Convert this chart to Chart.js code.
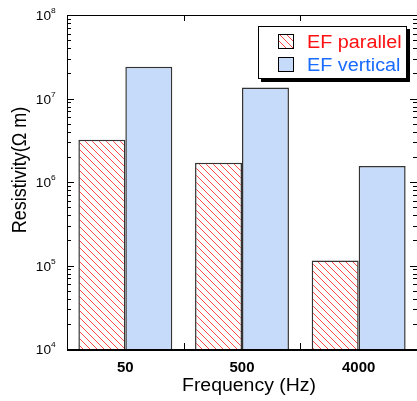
<!DOCTYPE html>
<html>
<head>
<meta charset="utf-8">
<script src="https://cdn.jsdelivr.net/npm/chart.js@4.4.0/dist/chart.umd.min.js"></script>
<style>
  body { margin: 0; background: #fff; }
  canvas { display: block; }
</style>
</head>
<body>
<canvas id="myChart-resistivity" width="417" height="401"></canvas>
<script>
// data
const frequencies = ['50', '500', '4000'];
const efParallel = [3.2e6, 1.7e6, 1.15e5];
const efVertical = [2.4e7, 1.35e7, 1.55e6];
const decadeTicks = [1e4, 1e5, 1e6, 1e7, 1e8];
const decadeLabels = ['4', '5', '6', '7', '8'];
const seriesNames = ['EF parallel', 'EF vertical'];

const FONT = '"Liberation Sans", Arial, Helvetica, sans-serif';
const BLUE_FILL = '#c6daf9';
const HATCH_RED = '#ff4848';

const makeHatch = () => {
    const s = 7;
    const c = document.createElement('canvas');
    c.width = s;
    c.height = s;
    const g = c.getContext('2d');
    g.fillStyle = '#fff';
    g.fillRect(0, 0, s, s);
    g.strokeStyle = HATCH_RED;
    g.lineWidth = 1;
    for (let k = -1; k <= 1; k++) {
        g.beginPath();
        g.moveTo(k * s, 0);
        g.lineTo(k * s + s, s);
        g.stroke();
    }
    return g.createPattern(c, 'repeat');
};

const hatch = makeHatch();

// text with a slight horizontal stretch, like the original
const drawText = (ctx, text, x, y, font, color, align, sx) => {
    ctx.save();
    ctx.font = font;
    ctx.fillStyle = color;
    ctx.textBaseline = 'alphabetic';
    const w = ctx.measureText(text).width * sx;
    let left = x;
    if (align === 'center') left = x - w / 2;
    if (align === 'right') left = x - w;
    ctx.translate(left, y);
    ctx.scale(sx, 1);
    ctx.textAlign = 'left';
    ctx.fillText(text, 0, 0);
    ctx.restore();
};

const framePlugin = {
    id: 'frame',
    afterDraw(chart) {
        const ctx = chart.ctx;
        const area = chart.chartArea;
        const xs = chart.scales.x;
        const ys = chart.scales.y;
        ctx.save();
        ctx.strokeStyle = '#000';

        // spines
        ctx.lineWidth = 1;
        ctx.beginPath();
        ctx.moveTo(area.left + 0.5, area.bottom);
        ctx.lineTo(area.left + 0.5, area.top + 0.5);
        ctx.lineTo(area.right, area.top + 0.5);
        ctx.stroke();
        ctx.lineWidth = 2;
        ctx.beginPath();
        ctx.moveTo(area.left, area.bottom + 1);
        ctx.lineTo(area.right, area.bottom + 1);
        ctx.stroke();

        // inward ticks on y (left and right)
        ctx.lineWidth = 1;
        decadeTicks.forEach((d, i) => {
            for (let m = 1; m <= 9; m++) {
                if (i === decadeTicks.length - 1 && m > 1) break;
                const y = Math.round(ys.getPixelForValue(d * m)) + 0.5;
                const len = m === 1 ? 7 : 4;
                ctx.beginPath();
                ctx.moveTo(area.left, y);
                ctx.lineTo(area.left + len, y);
                ctx.moveTo(area.right, y);
                ctx.lineTo(area.right - len, y);
                ctx.stroke();
            }
        });

        // inward ticks between categories (bottom and top)
        for (let i = 0; i < frequencies.length - 1; i++) {
            const x = Math.round((xs.getPixelForTick(i) + xs.getPixelForTick(i + 1)) / 2) + 0.5;
            ctx.beginPath();
            ctx.moveTo(x, area.bottom);
            ctx.lineTo(x, area.bottom - 6);
            ctx.moveTo(x, area.top);
            ctx.lineTo(x, area.top + 6);
            ctx.stroke();
        }

        // y labels 10^n
        decadeTicks.forEach((d, i) => {
            const y = ys.getPixelForValue(d);
            drawText(ctx, '10', 51, y + 5, '13px ' + FONT, '#000', 'right', 1.05);
            drawText(ctx, decadeLabels[i], 51, y - 2, '8px ' + FONT, '#000', 'left', 1.05);
        });

        // x labels
        frequencies.forEach((f, i) => {
            drawText(ctx, f, xs.getPixelForTick(i), 372, 'bold 14px ' + FONT, '#000', 'center', 1.07);
        });

        // axis titles
        drawText(ctx, 'Frequency (Hz)', 249, 391, '18px ' + FONT, '#000', 'center', 1.08);
        ctx.save();
        ctx.translate(26, 170);
        ctx.rotate(-Math.PI / 2);
        ctx.scale(1, 1.08);
        ctx.font = '18px ' + FONT;
        ctx.fillStyle = '#000';
        ctx.textAlign = 'center';
        ctx.fillText('Resistivity(Ω m)', 0, 0);
        ctx.restore();

        // legend
        const lx = 258, ly = 26, lw = 149, lh = 53;
        ctx.fillStyle = '#000';
        ctx.fillRect(lx + 3, ly + 3, lw, lh);
        ctx.fillStyle = '#fff';
        ctx.fillRect(lx, ly, lw, lh);
        ctx.strokeStyle = '#000';
        ctx.lineWidth = 1;
        ctx.strokeRect(lx + 0.5, ly + 0.5, lw - 1, lh - 1);

        ctx.fillStyle = hatch;
        ctx.fillRect(278, 34, 16, 15);
        ctx.strokeRect(278.5, 34.5, 15, 14);
        ctx.fillStyle = BLUE_FILL;
        ctx.fillRect(278, 57, 16, 15);
        ctx.strokeRect(278.5, 57.5, 15, 14);

        drawText(ctx, seriesNames[0], 307, 48, '18px ' + FONT, '#ff1010', 'left', 1.1);
        drawText(ctx, seriesNames[1], 307, 71, '18px ' + FONT, '#1a6bff', 'left', 1.1);

        ctx.restore();
    }
};

const chartData = {
    labels: frequencies,
    datasets: [{
        label: seriesNames[0],
        data: efParallel,
        backgroundColor: hatch,
        borderColor: '#333',
        borderWidth: 1.5
    }, {
        label: seriesNames[1],
        data: efVertical,
        backgroundColor: BLUE_FILL,
        borderColor: '#333',
        borderWidth: 1.5
    }]
};

const config = {
    type: 'bar',
    data: chartData,
    options: {
        responsive: false,
        animation: false,
        devicePixelRatio: 1,
        categoryPercentage: 0.805,
        barPercentage: 1,
        layout: { padding: { top: 15, right: 0, left: 0, bottom: 0 } },
        plugins: {
            legend: { display: false },
            tooltip: { enabled: false }
        },
        scales: {
            x: {
                type: 'category',
                offset: true,
                grid: { display: false },
                border: { display: false },
                ticks: { display: false },
                afterFit: (scale) => { scale.height = 52; }
            },
            y: {
                type: 'logarithmic',
                min: 1e4,
                max: 1e8,
                grid: { display: false },
                border: { display: false },
                ticks: { display: false },
                afterFit: (scale) => { scale.width = 67; }
            }
        }
    },
    plugins: [framePlugin]
};

const ctx = document.getElementById('myChart-resistivity').getContext('2d');
new Chart(ctx, config);
</script>
</body>
</html>
